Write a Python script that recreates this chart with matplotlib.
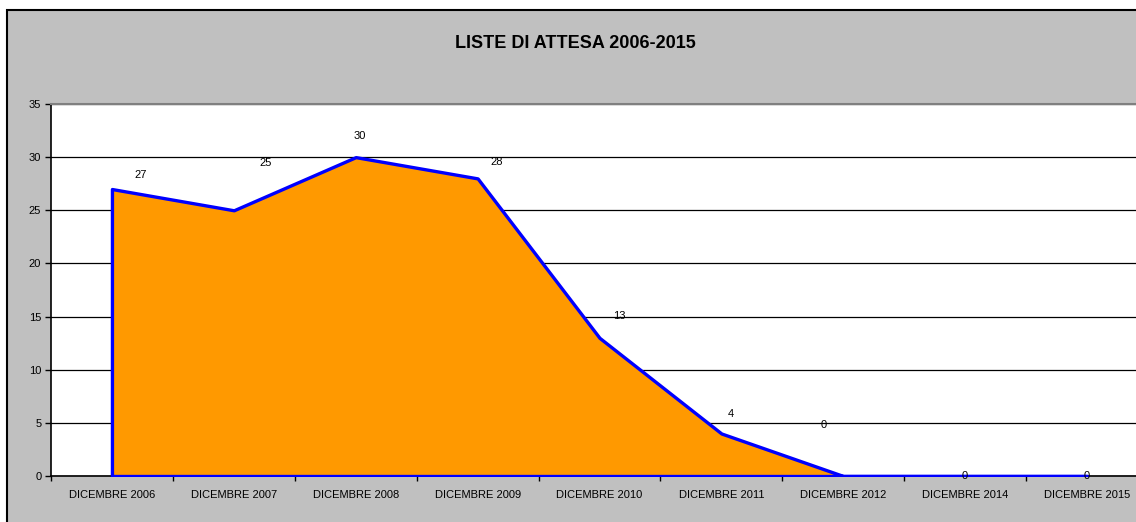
import matplotlib
matplotlib.use("Agg")
import matplotlib.pyplot as plt
from matplotlib.patches import Rectangle
import numpy as np

plt.rcParams['font.family'] = ['Liberation Sans', 'DejaVu Sans']

categories = ["DICEMBRE 2006", "DICEMBRE 2007", "DICEMBRE 2008", "DICEMBRE 2009",
              "DICEMBRE 2010", "DICEMBRE 2011", "DICEMBRE 2012", "DICEMBRE 2014",
              "DICEMBRE 2015"]
values = [27, 25, 30, 28, 13, 4, 0, 0, 0]
# label offsets (points) relative to each data point
label_dx = [21, 23, 3, 14, 14, 7, -14, 0, 0]
label_dy = [10, 34, 15, 12, 16, 14, 37, 0, 0]
yticks = [0, 5, 10, 15, 20, 25, 30, 35]

W, H = 1136, 522
fig = plt.figure(figsize=(W / 100, H / 100), dpi=100)
fig.patch.set_facecolor("white")

bg = Rectangle((7 / W, -0.05), 1.1, 1 - 10 / H + 0.05, transform=fig.transFigure,
               facecolor="#C0C0C0", edgecolor="black", linewidth=1.5, zorder=-10)
fig.patches.append(bg)

ax = fig.add_axes([51 / W, (H - 476) / H, (1148 - 51) / W, (476 - 104) / H])
ax.set_facecolor("white")

x = np.arange(len(categories))
ax.fill_between(x, values, 0, facecolor="#FF9900", edgecolor="#0000FF",
                linewidth=2.4, zorder=3)

for xi, v, dx, dy in zip(x, values, label_dx, label_dy):
    ax.annotate(str(v), (xi, v), xytext=(dx, dy), textcoords="offset points",
                ha="center", va="center", fontsize=8, color="black", zorder=5)

ax.set_xlim(-0.5, len(categories) - 0.5)
ax.set_ylim(0, 35)
ax.set_yticks(yticks)
ax.set_yticklabels([str(t) for t in yticks], fontsize=8)
ax.yaxis.grid(True, color="black", linewidth=0.9)
ax.set_axisbelow(True)

ax.set_xticks(np.arange(len(categories) + 1) - 0.5)
ax.set_xticklabels([])
ax.set_xticks(x, minor=True)
ax.set_xticklabels(categories, minor=True, fontsize=8)
ax.tick_params(axis="x", which="major", direction="out", length=3.5, width=1, color="black")
ax.tick_params(axis="x", which="minor", length=0, pad=10)
ax.tick_params(axis="y", direction="out", length=4, width=1, color="black", pad=3)

for s in ["left", "bottom"]:
    ax.spines[s].set_color("black")
    ax.spines[s].set_linewidth(1.2)
ax.spines["top"].set_color("#808080")
ax.spines["top"].set_linewidth(1.5)
ax.spines["right"].set_visible(False)

fig.text(575 / W, 1 - 43 / H, "LISTE DI ATTESA 2006-2015", ha="center", va="center",
         fontsize=13, fontweight="bold")

fig.savefig("out.png", dpi=100)
